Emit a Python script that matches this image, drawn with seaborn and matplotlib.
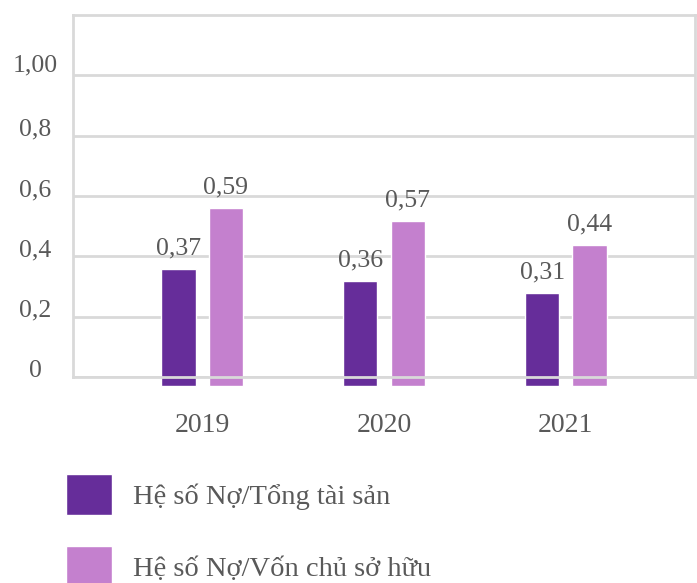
import matplotlib
matplotlib.use("Agg")
import matplotlib.pyplot as plt
import matplotlib.transforms as mtransforms
import seaborn as sns
import pandas as pd

years = ["2019", "2020", "2021"]
series_names = ["Hệ số Nợ/Tổng tài sản", "Hệ số Nợ/Vốn chủ sở hữu"]
debt_assets = [0.357, 0.318, 0.277]
debt_equity = [0.561, 0.517, 0.436]
labels_assets = ["0,37", "0,36", "0,31"]
labels_equity = ["0,59", "0,57", "0,44"]
ytick_vals = [0, 0.2, 0.4, 0.6, 0.8, 1.0]
ytick_labels = ["0", "0,2", "0,4", "0,6", "0,8", "1,00"]

colors = ["#662d9a", "#c480ce"]
text_color = "#595959"
grid_color = "#d9d9d9"

df = pd.DataFrame({
    "year": years * 2,
    "series": [series_names[0]] * 3 + [series_names[1]] * 3,
    "value": debt_assets + debt_equity,
    "label": labels_assets + labels_equity,
})

sns.set_theme(style="white")
plt.rcParams["font.family"] = ["Liberation Serif", "DejaVu Serif"]
FS = 18.5
FS_X = 20
FS_LEG = 20.5

fig = plt.figure(figsize=(6.97, 5.83), dpi=100)
ax = fig.add_axes([73 / 697, 1 - 377 / 583, (695 - 73) / 697, (377 - 15) / 583])

sns.barplot(data=df, x="year", y="value", hue="series", palette=colors,
            width=0.52, gap=0.28, ax=ax, saturation=1, legend=True)

ax.set_ylim(0, 1.2)
ax.set_xlim(-0.71, 2.71)
ax.set_yticks(ytick_vals)
ax.set_yticklabels(ytick_labels)
ax.grid(axis="y", color=grid_color, linewidth=2)
ax.set_axisbelow(True)
for s in ax.spines.values():
    s.set_color(grid_color)
    s.set_linewidth(2)
ax.set_xlabel("")
ax.set_ylabel("")
ax.tick_params(axis="y", length=0, pad=27, labelsize=FS, labelcolor=text_color)
ax.tick_params(axis="x", length=0, pad=26, labelsize=FS_X, labelcolor=text_color)
for lab in ax.get_yticklabels():
    lab.set_horizontalalignment("center")
    dy = 9 if lab.get_text() == "1,00" else 6
    lab.set_transform(lab.get_transform() + mtransforms.ScaledTranslation(0, dy / 72, fig.dpi_scale_trans))

# extend bars slightly below the baseline, as in the reference
ext = 0.03
for cont, labs in zip(ax.containers, [labels_assets, labels_equity]):
    for p in cont.patches:
        h = p.get_height()
        p.set_y(-ext)
        p.set_height(h + ext)
        p.set_clip_on(False)
    for p, t in zip(cont.patches, labs):
        ax.annotate(t, (p.get_x() + p.get_width() / 2, p.get_y() + p.get_height()),
                    xytext=(0, 7), textcoords="offset points", ha="center", va="bottom",
                    fontsize=FS, color=text_color)

handles, lbls = ax.get_legend_handles_labels()
ax.get_legend().remove()
fig.legend(handles, lbls, loc="upper left", bbox_to_anchor=(66 / 697, 1 - 474 / 583),
           frameon=False, fontsize=FS_LEG, labelcolor=text_color,
           borderpad=0, borderaxespad=0,
           handlelength=1.62, handleheight=1.84, handletextpad=0.74, labelspacing=1.1)

fig.savefig("out.png", dpi=100)
